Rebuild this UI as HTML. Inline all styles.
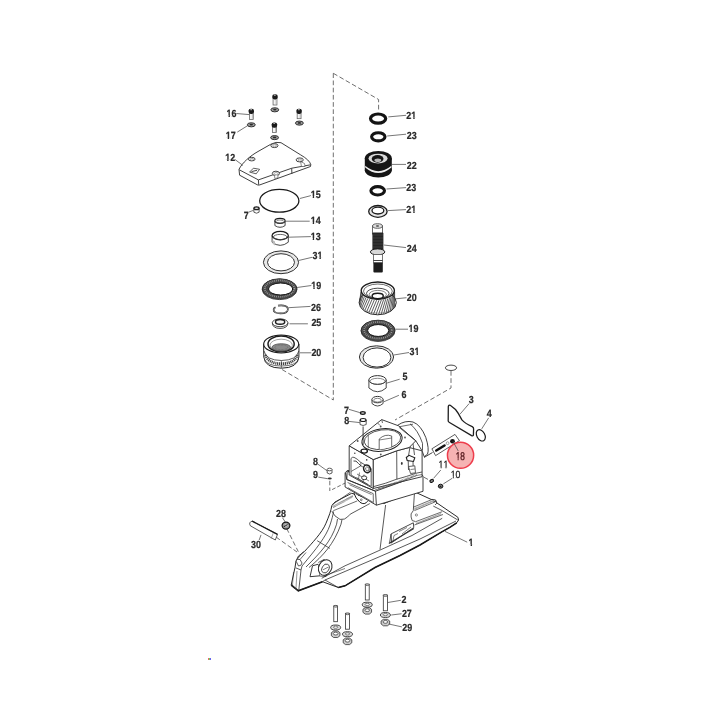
<!DOCTYPE html>
<html><head><meta charset="utf-8"><style>
html,body{margin:0;padding:0;background:#fff;}
svg{display:block;filter:blur(0.3px);}

.l{fill:none;stroke:#2e2e2e;stroke-width:0.9;}
.d{fill:none;stroke:#555;stroke-width:0.85;stroke-dasharray:4.7 2.5;}
.k{fill:none;stroke:#141414;}
.ld{fill:none;stroke:#4a4a4a;stroke-width:0.75;}
</style></head><body>
<svg width="720" height="720" viewBox="0 0 720 720">
<defs><filter id="g" x="0" y="0" width="1" height="1"><feOffset dx="0" dy="0"/></filter></defs>
<rect width="720" height="720" fill="#fff"/>
<path class="d" d="M333.3,73.3 L378.6,99.5 L378.6,111" />
<path class="d" d="M333.3,73.3 L333.3,400 L281.7,369.3" />
<path class="d" d="M451,371 L451,388 L395,420" />
<path class="d" d="M329.8,480.8 L329.8,491" style='stroke-dasharray:4.5 2.2'/>
<path class="d" d="M332.1,489.6 L345.2,483" style='stroke-dasharray:3.8 2'/>
<path class="d" d="M417.5,473.8 L430,480.5" />
<path class="d" d="M286.7,528.5 L298.3,551.7" />
<path class="d" d="M276,537 L297,552" />
<ellipse class="k" cx="378.1" cy="118.6" rx="7.6" ry="4.6" stroke-width='3.2'/>
<path class="ld" d="M388.3,116.9 L406.1,115.3" />
<g filter="url(#g)"><g transform="translate(406.29,118.80) scale(0.8600,1)"><text text-rendering="geometricPrecision" font-size="10.4" font-weight="bold" fill="#2b2b2b" stroke="#2b2b2b" stroke-width="0.220" style="font-family:'Liberation Sans', sans-serif;font-kerning:none">21</text><rect x="5.98" y="-1.52" width="2.12" height="2.58" fill="#fff"/><rect x="9.75" y="-1.52" width="2.64" height="2.58" fill="#fff"/></g></g>
<ellipse class="k" cx="378.3" cy="136.8" rx="6.7" ry="4.1" stroke-width='3.1'/>
<path class="ld" d="M387.2,136 L406.1,134.2" />
<g filter="url(#g)"><g transform="translate(406.69,139.00) scale(0.8600,1)"><text text-rendering="geometricPrecision" font-size="10.4" font-weight="bold" fill="#2b2b2b" stroke="#2b2b2b" stroke-width="0.220" style="font-family:'Liberation Sans', sans-serif;font-kerning:none">23</text></g></g>
<g>
<ellipse class="f" cx="378.3" cy="170.3" rx="13.5" ry="7.3" fill="#151515"/>
<rect x="364.8" y="158.3" width="27" height="12" fill="#151515"/>
<path d="M365.2,165.8 Q378.3,176.6 391.4,165.8 L391.4,167.4 Q378.3,178.4 365.2,167.4Z" fill="#f0f0f0"/>
<ellipse class="f" cx="378.3" cy="158.3" rx="13.5" ry="7.4" fill="#151515"/>
<ellipse class="f" cx="378.05" cy="158.55" rx="9.55" ry="4.85" fill="#d9d9d9"/>
<ellipse class="f" cx="377.6" cy="158.85" rx="5.9" ry="3.85" fill="#151515"/>
<ellipse class="f" cx="377.8" cy="160.2" rx="3.4" ry="1.8" fill="#b8b8b8"/>
</g>
<path class="ld" d="M392,164.4 L406,164.4" />
<g filter="url(#g)"><g transform="translate(406.69,169.20) scale(0.8600,1)"><text text-rendering="geometricPrecision" font-size="10.4" font-weight="bold" fill="#2b2b2b" stroke="#2b2b2b" stroke-width="0.220" style="font-family:'Liberation Sans', sans-serif;font-kerning:none">22</text></g></g>
<ellipse class="k" cx="377.7" cy="190.8" rx="6.8" ry="4.2" stroke-width='3.1'/>
<path class="ld" d="M386.5,189 L406.1,187.6" />
<g filter="url(#g)"><g transform="translate(406.29,190.70) scale(0.8600,1)"><text text-rendering="geometricPrecision" font-size="10.4" font-weight="bold" fill="#2b2b2b" stroke="#2b2b2b" stroke-width="0.220" style="font-family:'Liberation Sans', sans-serif;font-kerning:none">23</text></g></g>
<ellipse class="f" cx="377.9" cy="211.4" rx="9.2" ry="5.9" fill="#e4e4e4" stroke="#1a1a1a" stroke-width="1.3"/>
<ellipse class="f" cx="377.9" cy="210.6" rx="5.9" ry="3.4" fill="#fff" stroke="#1a1a1a" stroke-width="1.3"/>
<path class="ld" d="M388,210.6 L406,209.6" />
<g filter="url(#g)"><g transform="translate(406.29,212.70) scale(0.8600,1)"><text text-rendering="geometricPrecision" font-size="10.4" font-weight="bold" fill="#2b2b2b" stroke="#2b2b2b" stroke-width="0.220" style="font-family:'Liberation Sans', sans-serif;font-kerning:none">21</text><rect x="5.98" y="-1.52" width="2.12" height="2.58" fill="#fff"/><rect x="9.75" y="-1.52" width="2.64" height="2.58" fill="#fff"/></g></g>
<g>
<rect x="372.4" y="226" width="10" height="8" fill="#fff" stroke="#444" stroke-width="0.8"/>
<ellipse class="f" cx="377.5" cy="226" rx="4.9" ry="2.3" fill="#ddd" stroke="#444" stroke-width="0.8"/>
<ellipse class="f" cx="377.5" cy="226" rx="1.6" ry="0.9" fill="#666"/>
<rect x="372.4" y="232.5" width="11" height="19.5" rx="1" fill="#262626"/>
<path d="M373,235 L383,235 M373,238 L383,238 M373,241 L383,241 M373,244 L383,244 M373,247 L383,247" stroke="#555" stroke-width="0.5"/>
<ellipse class="f" cx="377.6" cy="251.9" rx="7.2" ry="3.0" fill="#d8d8d8" stroke="#222" stroke-width="1"/>
<rect x="373.4" y="254.5" width="9.2" height="8.4" fill="#fff" stroke="#555" stroke-width="0.8"/>
<path class="l" d="M373.4,260.5 L382.6,260.5" />
<rect x="373.4" y="262.6" width="9.4" height="9.8" rx="1" fill="#1c1c1c"/>
</g>
<path class="ld" d="M383.8,245 L406,247.6" />
<g filter="url(#g)"><g transform="translate(406.79,251.60) scale(0.8600,1)"><text text-rendering="geometricPrecision" font-size="10.4" font-weight="bold" fill="#2b2b2b" stroke="#2b2b2b" stroke-width="0.220" style="font-family:'Liberation Sans', sans-serif;font-kerning:none">24</text></g></g>
<g>
<ellipse class="f" cx="377.7" cy="302.5" rx="18.6" ry="12.3" fill="#fff" stroke="#262626" stroke-width="1"/>
<line x1="360.98" y1="291.87" x2="359.79" y2="300.07" stroke="#333" stroke-width="0.8"/>
<line x1="361.36" y1="293.14" x2="359.44" y2="301.73" stroke="#333" stroke-width="0.8"/>
<line x1="362.08" y1="294.37" x2="359.45" y2="303.40" stroke="#333" stroke-width="0.8"/>
<line x1="363.10" y1="295.54" x2="359.83" y2="305.05" stroke="#333" stroke-width="0.8"/>
<line x1="364.42" y1="296.62" x2="360.55" y2="306.66" stroke="#333" stroke-width="0.8"/>
<line x1="365.99" y1="297.58" x2="361.62" y2="308.18" stroke="#333" stroke-width="0.8"/>
<line x1="367.81" y1="298.42" x2="363.00" y2="309.59" stroke="#333" stroke-width="0.8"/>
<line x1="369.81" y1="299.11" x2="364.67" y2="310.86" stroke="#333" stroke-width="0.8"/>
<line x1="371.98" y1="299.64" x2="366.60" y2="311.96" stroke="#333" stroke-width="0.8"/>
<line x1="374.26" y1="300.00" x2="368.75" y2="312.88" stroke="#333" stroke-width="0.8"/>
<line x1="376.61" y1="300.18" x2="371.08" y2="313.59" stroke="#333" stroke-width="0.8"/>
<line x1="378.99" y1="300.18" x2="373.53" y2="314.09" stroke="#333" stroke-width="0.8"/>
<line x1="381.34" y1="300.00" x2="376.07" y2="314.35" stroke="#333" stroke-width="0.8"/>
<line x1="383.62" y1="299.64" x2="378.64" y2="314.38" stroke="#333" stroke-width="0.8"/>
<line x1="385.79" y1="299.11" x2="381.20" y2="314.18" stroke="#333" stroke-width="0.8"/>
<line x1="387.79" y1="298.42" x2="383.68" y2="313.75" stroke="#333" stroke-width="0.8"/>
<line x1="389.61" y1="297.58" x2="386.04" y2="313.09" stroke="#333" stroke-width="0.8"/>
<line x1="391.18" y1="296.62" x2="388.24" y2="312.23" stroke="#333" stroke-width="0.8"/>
<line x1="392.50" y1="295.54" x2="390.24" y2="311.17" stroke="#333" stroke-width="0.8"/>
<line x1="393.52" y1="294.37" x2="391.98" y2="309.94" stroke="#333" stroke-width="0.8"/>
<line x1="394.24" y1="293.14" x2="393.44" y2="308.57" stroke="#333" stroke-width="0.8"/>
<line x1="394.62" y1="291.87" x2="394.60" y2="307.07" stroke="#333" stroke-width="0.8"/>
<path d="M360.5,304 Q362,312.8 377.7,313.2 Q393.4,312.8 395,304" fill="none" stroke="#666" stroke-width="0.5"/>
<ellipse class="f" cx="377.8" cy="290.6" rx="16.6" ry="8.6" fill="#fff" stroke="#1e1e1e" stroke-width="1.4"/>
<ellipse class="f" cx="377.9" cy="291.2" rx="14.4" ry="7.2" fill="none" stroke="#444" stroke-width="0.8"/>
<ellipse class="f" cx="377.8" cy="293.4" rx="11.3" ry="5.2" fill="none" stroke="#333" stroke-width="0.9"/>
<ellipse class="f" cx="377.8" cy="294.4" rx="8.6" ry="4.0" fill="none" stroke="#555" stroke-width="0.7"/>
<ellipse class="f" cx="377.7" cy="296" rx="5.6" ry="2.7" fill="#fff" stroke="#1a1a1a" stroke-width="1.4"/>
</g>
<path class="ld" d="M396,298.8 L406.5,297.7" />
<g filter="url(#g)"><g transform="translate(406.69,301.10) scale(0.8600,1)"><text text-rendering="geometricPrecision" font-size="10.4" font-weight="bold" fill="#2b2b2b" stroke="#2b2b2b" stroke-width="0.220" style="font-family:'Liberation Sans', sans-serif;font-kerning:none">20</text></g></g>
<ellipse class="f" cx="378" cy="330.9" rx="17" ry="10.5" fill="#6a6a6a" stroke="#222" stroke-width="0.8"/>
<ellipse class="f" cx="378" cy="330.2" rx="16.8" ry="10.0" fill="#454545" stroke="#222" stroke-width="0.7"/>
<ellipse class="f" cx="378" cy="330.2" rx="13.775" ry="8.225" fill="none" stroke="#a0a0a0" stroke-width="1.8" stroke-dasharray="0.8 1.1"/>
<ellipse class="f" cx="378" cy="330.3" rx="15.9" ry="9.5" fill="none" stroke="#666" stroke-width="0.5"/>
<ellipse class="f" cx="378.2" cy="330.5" rx="10.55" ry="5.95" fill="#fff" stroke="#111" stroke-width="1"/>
<path class="ld" d="M395,329.2 L408,329.2" />
<g filter="url(#g)"><g transform="translate(408.42,331.90) scale(0.8600,1)"><text text-rendering="geometricPrecision" font-size="10.4" font-weight="bold" fill="#2b2b2b" stroke="#2b2b2b" stroke-width="0.220" style="font-family:'Liberation Sans', sans-serif;font-kerning:none">19</text><rect x="-0.45" y="-1.52" width="2.77" height="2.58" fill="#fff"/><rect x="3.96" y="-1.52" width="1.99" height="2.58" fill="#fff"/></g></g>
<ellipse class="f" cx="376.5" cy="357" rx="17.1" ry="11.2" fill="#e8e8e8" stroke="#333" stroke-width="1"/>
<ellipse class="f" cx="377" cy="357.5" rx="13.9" ry="9.6" fill="#fff" stroke="#333" stroke-width="1"/>
<path class="ld" d="M393.8,355 L409,352.5" />
<g filter="url(#g)"><g transform="translate(409.58,354.70) scale(0.8600,1)"><text text-rendering="geometricPrecision" font-size="10.4" font-weight="bold" fill="#2b2b2b" stroke="#2b2b2b" stroke-width="0.220" style="font-family:'Liberation Sans', sans-serif;font-kerning:none">31</text><rect x="5.98" y="-1.52" width="2.12" height="2.58" fill="#fff"/><rect x="9.75" y="-1.52" width="2.64" height="2.58" fill="#fff"/></g></g>
<path d="M368.9,380 L368.9,388 Q377.5,395.5 386.2,388 L386.2,380" fill="#fff" stroke="#333" stroke-width="0.9"/>
<ellipse class="f" cx="377.5" cy="380" rx="8.7" ry="4.4" fill="#fff" stroke="#333" stroke-width="1"/>
<ellipse class="f" cx="377.5" cy="381.3" rx="7.5" ry="3.0" fill="none" stroke="#555" stroke-width="0.7"/>
<path class="ld" d="M386.1,383.3 L399.7,379.2" />
<g filter="url(#g)"><g transform="translate(402.53,379.90) scale(0.8600,1)"><text text-rendering="geometricPrecision" font-size="10.4" font-weight="bold" fill="#2b2b2b" stroke="#2b2b2b" stroke-width="0.220" style="font-family:'Liberation Sans', sans-serif;font-kerning:none">5</text></g></g>
<path d="M372,399.5 L372,403.5 Q377.5,408.5 383.1,403.5 L383.1,399.5" fill="#fff" stroke="#333" stroke-width="0.9"/>
<ellipse class="f" cx="377.5" cy="399.6" rx="5.6" ry="3.2" fill="#fff" stroke="#333" stroke-width="1"/>
<ellipse class="f" cx="377.5" cy="400.2" rx="3.8" ry="1.9" fill="none" stroke="#555" stroke-width="0.7"/>
<path class="ld" d="M384,401.7 L398.9,395.3" />
<g filter="url(#g)"><g transform="translate(401.39,398.20) scale(0.8600,1)"><text text-rendering="geometricPrecision" font-size="10.4" font-weight="bold" fill="#2b2b2b" stroke="#2b2b2b" stroke-width="0.220" style="font-family:'Liberation Sans', sans-serif;font-kerning:none">6</text></g></g>
<ellipse class="f" cx="451" cy="367.8" rx="5.6" ry="2.7" fill="#fff" stroke="#333" stroke-width="0.9"/>
<rect x="249.35000000000002" y="112.9" width="3.9" height="6.500000000000003" fill="#f4f4f4" stroke="#555" stroke-width="0.7"/>
<rect x="251.9" y="113.3" width="1.0" height="5.500000000000003" fill="#bbb"/>
<rect x="248.60000000000002" y="108.7" width="5.4" height="5.2" rx="2.2" ry="1.8" fill="#1a1a1a"/>
<ellipse class="f" cx="251.10000000000002" cy="109.7" rx="1.0" ry="0.6" fill="#bbb"/>
<ellipse class="f" cx="251.3" cy="124.8" rx="3.95" ry="2.05" fill="#9a9a9a" stroke="#222" stroke-width="0.9"/>
<ellipse class="f" cx="251.3" cy="124.6" rx="1.659" ry="0.9225" fill="#2a2a2a"/>
<rect x="273.05" y="98.4" width="3.9" height="6.599999999999997" fill="#f4f4f4" stroke="#555" stroke-width="0.7"/>
<rect x="275.6" y="98.8" width="1.0" height="5.599999999999997" fill="#bbb"/>
<rect x="272.3" y="94.2" width="5.4" height="5.2" rx="2.2" ry="1.8" fill="#1a1a1a"/>
<ellipse class="f" cx="274.8" cy="95.2" rx="1.0" ry="0.6" fill="#bbb"/>
<ellipse class="f" cx="274.8" cy="109.8" rx="3.95" ry="2.05" fill="#9a9a9a" stroke="#222" stroke-width="0.9"/>
<ellipse class="f" cx="274.8" cy="109.6" rx="1.659" ry="0.9225" fill="#2a2a2a"/>
<rect x="297.15000000000003" y="112.9" width="3.9" height="5.8" fill="#f4f4f4" stroke="#555" stroke-width="0.7"/>
<rect x="299.70000000000005" y="113.3" width="1.0" height="4.8" fill="#bbb"/>
<rect x="296.40000000000003" y="108.7" width="5.4" height="5.2" rx="2.2" ry="1.8" fill="#1a1a1a"/>
<ellipse class="f" cx="298.90000000000003" cy="109.7" rx="1.0" ry="0.6" fill="#bbb"/>
<ellipse class="f" cx="299.4" cy="123.1" rx="3.95" ry="2.05" fill="#9a9a9a" stroke="#222" stroke-width="0.9"/>
<ellipse class="f" cx="299.4" cy="122.89999999999999" rx="1.659" ry="0.9225" fill="#2a2a2a"/>
<rect x="272.45" y="126.7" width="3.9" height="5.8" fill="#f4f4f4" stroke="#555" stroke-width="0.7"/>
<rect x="275.0" y="127.1" width="1.0" height="4.8" fill="#bbb"/>
<rect x="271.7" y="122.5" width="5.4" height="5.2" rx="2.2" ry="1.8" fill="#1a1a1a"/>
<ellipse class="f" cx="274.2" cy="123.5" rx="1.0" ry="0.6" fill="#bbb"/>
<ellipse class="f" cx="274.6" cy="137.6" rx="3.95" ry="2.05" fill="#9a9a9a" stroke="#222" stroke-width="0.9"/>
<ellipse class="f" cx="274.6" cy="137.4" rx="1.659" ry="0.9225" fill="#2a2a2a"/>
<path class="ld" d="M236.3,113.5 L249.2,114.6" />
<g filter="url(#g)"><g transform="translate(226.52,116.80) scale(0.8600,1)"><text text-rendering="geometricPrecision" font-size="10.4" font-weight="bold" fill="#2b2b2b" stroke="#2b2b2b" stroke-width="0.220" style="font-family:'Liberation Sans', sans-serif;font-kerning:none">16</text><rect x="-0.45" y="-1.52" width="2.77" height="2.58" fill="#fff"/><rect x="3.96" y="-1.52" width="1.99" height="2.58" fill="#fff"/></g></g>
<path class="ld" d="M237.3,132.1 L248,125.4" />
<g filter="url(#g)"><g transform="translate(225.72,139.00) scale(0.8600,1)"><text text-rendering="geometricPrecision" font-size="10.4" font-weight="bold" fill="#2b2b2b" stroke="#2b2b2b" stroke-width="0.220" style="font-family:'Liberation Sans', sans-serif;font-kerning:none">17</text><rect x="-0.45" y="-1.52" width="2.77" height="2.58" fill="#fff"/><rect x="3.96" y="-1.52" width="1.99" height="2.58" fill="#fff"/></g></g>
<path d="M239,169.3 C242,163 250,156 258,151.5 L270.7,144.3 Q276,141.3 281,142.7 L300.7,154.9 Q309.5,160 310.8,164.6 L310.5,166.5 L259.8,184.9 Q258.5,185.4 257.3,184.8 L239.6,175.2 Z" fill="#fff" stroke="#2a2a2a" stroke-width="0.9"/>
<path class="l" d="M239.3,169.8 L258.4,179.9 L291.8,168.2 L310.6,164.8" stroke-width='0.7'/>
<path class="l" d="M258.4,179.9 L258.7,184.8 M291.7,168.3 L291.9,173.8" stroke-width='0.7'/>
<ellipse class="f" cx="274.4" cy="145.6" rx="3.6" ry="2.0" fill="#f4f4f4" stroke="#333" stroke-width="0.9"/>
<ellipse class="f" cx="274.59999999999997" cy="145.79999999999998" rx="1.8" ry="1.0" fill="#fff" stroke="#666" stroke-width="0.5"/>
<ellipse class="f" cx="251.7" cy="159.1" rx="3.4" ry="1.8" fill="#f4f4f4" stroke="#333" stroke-width="0.9"/>
<ellipse class="f" cx="251.89999999999998" cy="159.29999999999998" rx="1.7" ry="0.9" fill="#fff" stroke="#666" stroke-width="0.5"/>
<ellipse class="f" cx="299.7" cy="159.9" rx="3.6" ry="2.0" fill="#f4f4f4" stroke="#333" stroke-width="0.9"/>
<ellipse class="f" cx="299.9" cy="160.1" rx="1.8" ry="1.0" fill="#fff" stroke="#666" stroke-width="0.5"/>
<path d="M300.5,161.5 L304.5,163.5 L305,166.5 L301.5,166.5 Z" fill="#fff" stroke="#444" stroke-width="0.6"/>
<ellipse class="f" cx="275.9" cy="173.4" rx="3.6" ry="2.2" fill="#f4f4f4" stroke="#333" stroke-width="0.9"/>
<ellipse class="f" cx="276.09999999999997" cy="173.6" rx="1.8" ry="1.1" fill="#fff" stroke="#666" stroke-width="0.5"/>
<path d="M274.5,175.5 L274.8,178.5 L278,177.8 L277.8,175" fill="#fff" stroke="#444" stroke-width="0.6"/>
<path d="M249.6,172.1 L253.4,168.2 L259.6,169.3 L256.2,173.8 Z" fill="#fff" stroke="#333" stroke-width="0.8"/>
<path class="l" d="M251.5,171.6 L257,170.3" stroke-width='0.9'/>
<path class="ld" d="M235,159.5 L243,165.5" />
<g filter="url(#g)"><g transform="translate(225.17,161.00) scale(0.8600,1)"><text text-rendering="geometricPrecision" font-size="10.4" font-weight="bold" fill="#2b2b2b" stroke="#2b2b2b" stroke-width="0.220" style="font-family:'Liberation Sans', sans-serif;font-kerning:none">12</text><rect x="-0.45" y="-1.52" width="2.77" height="2.58" fill="#fff"/><rect x="3.96" y="-1.52" width="1.99" height="2.58" fill="#fff"/></g></g>
<ellipse class="f" cx="279.3" cy="200.8" rx="19.6" ry="11.4" fill="none" stroke="#1a1a1a" stroke-width="1.3"/>
<path class="ld" d="M299.8,198.5 L311,195.6" />
<g filter="url(#g)"><g transform="translate(310.72,197.60) scale(0.8600,1)"><text text-rendering="geometricPrecision" font-size="10.4" font-weight="bold" fill="#2b2b2b" stroke="#2b2b2b" stroke-width="0.220" style="font-family:'Liberation Sans', sans-serif;font-kerning:none">15</text><rect x="-0.45" y="-1.52" width="2.77" height="2.58" fill="#fff"/><rect x="3.96" y="-1.52" width="1.99" height="2.58" fill="#fff"/></g></g>
<path d="M253.9,208.3 L253.9,212.2 Q256.5,214.2 259.1,212.2 L259.1,208.3" fill="#fff" stroke="#333" stroke-width="0.8"/>
<ellipse class="f" cx="256.5" cy="208.3" rx="2.6" ry="1.4" fill="#ddd" stroke="#1e1e1e" stroke-width="1.3"/>
<path class="ld" d="M249,212 L253.5,210.3" />
<g filter="url(#g)"><g transform="translate(243.70,218.90) scale(0.8600,1)"><text text-rendering="geometricPrecision" font-size="10.4" font-weight="bold" fill="#2b2b2b" stroke="#2b2b2b" stroke-width="0.220" style="font-family:'Liberation Sans', sans-serif;font-kerning:none">7</text></g></g>
<path d="M274.9,220.8 L274.9,225.6 Q280,229 285.1,225.6 L285.1,220.8" fill="#fff" stroke="#333" stroke-width="0.9"/>
<ellipse class="f" cx="280" cy="220.8" rx="5.1" ry="2.5" fill="#fff" stroke="#1e1e1e" stroke-width="1.2"/>
<ellipse class="f" cx="280" cy="221.6" rx="4.0" ry="1.6" fill="none" stroke="#555" stroke-width="0.7"/>
<path class="ld" d="M286,221.2 L309.7,221.2" />
<g filter="url(#g)"><g transform="translate(310.72,223.70) scale(0.8600,1)"><text text-rendering="geometricPrecision" font-size="10.4" font-weight="bold" fill="#2b2b2b" stroke="#2b2b2b" stroke-width="0.220" style="font-family:'Liberation Sans', sans-serif;font-kerning:none">14</text><rect x="-0.45" y="-1.52" width="2.77" height="2.58" fill="#fff"/><rect x="3.96" y="-1.52" width="1.99" height="2.58" fill="#fff"/></g></g>
<path d="M272.1,235.6 L272.1,242.2 Q280.2,248.5 288.3,242.2 L288.3,235.6" fill="#fff" stroke="#333" stroke-width="0.9"/>
<ellipse class="f" cx="280.2" cy="235.6" rx="8.1" ry="4.2" fill="#fff" stroke="#1e1e1e" stroke-width="1.2"/>
<ellipse class="f" cx="280.2" cy="237" rx="6.8" ry="2.6" fill="none" stroke="#444" stroke-width="0.8"/>
<path d="M272.5,240 L272.5,243.5 Q274,245 275,245.5 L275,241.5 Z" fill="#bbb"/>
<path class="ld" d="M288.8,237.2 L310.9,236.6" />
<g filter="url(#g)"><g transform="translate(310.72,239.50) scale(0.8600,1)"><text text-rendering="geometricPrecision" font-size="10.4" font-weight="bold" fill="#2b2b2b" stroke="#2b2b2b" stroke-width="0.220" style="font-family:'Liberation Sans', sans-serif;font-kerning:none">13</text><rect x="-0.45" y="-1.52" width="2.77" height="2.58" fill="#fff"/><rect x="3.96" y="-1.52" width="1.99" height="2.58" fill="#fff"/></g></g>
<ellipse class="f" cx="281" cy="262.3" rx="17.6" ry="11.4" fill="#e8e8e8" stroke="#333" stroke-width="1"/>
<ellipse class="f" cx="281" cy="262.3" rx="13.5" ry="8.6" fill="#fff" stroke="#333" stroke-width="1"/>
<path class="ld" d="M298.6,260.5 L312.1,257.3" />
<g filter="url(#g)"><g transform="translate(312.48,258.80) scale(0.8600,1)"><text text-rendering="geometricPrecision" font-size="10.4" font-weight="bold" fill="#2b2b2b" stroke="#2b2b2b" stroke-width="0.220" style="font-family:'Liberation Sans', sans-serif;font-kerning:none">31</text><rect x="5.98" y="-1.52" width="2.12" height="2.58" fill="#fff"/><rect x="9.75" y="-1.52" width="2.64" height="2.58" fill="#fff"/></g></g>
<ellipse class="f" cx="279.6" cy="289.3" rx="17.4" ry="10.3" fill="#6a6a6a" stroke="#222" stroke-width="0.8"/>
<ellipse class="f" cx="279.6" cy="288.6" rx="17.2" ry="9.8" fill="#454545" stroke="#222" stroke-width="0.7"/>
<ellipse class="f" cx="279.6" cy="288.6" rx="14.75" ry="8.15" fill="none" stroke="#a0a0a0" stroke-width="1.8" stroke-dasharray="0.8 1.1"/>
<ellipse class="f" cx="279.6" cy="288.70000000000005" rx="16.299999999999997" ry="9.3" fill="none" stroke="#666" stroke-width="0.5"/>
<ellipse class="f" cx="280.6" cy="289" rx="12.1" ry="6.0" fill="#fff" stroke="#111" stroke-width="1"/>
<path class="ld" d="M297,287.5 L311.3,285.5" />
<g filter="url(#g)"><g transform="translate(311.32,288.60) scale(0.8600,1)"><text text-rendering="geometricPrecision" font-size="10.4" font-weight="bold" fill="#2b2b2b" stroke="#2b2b2b" stroke-width="0.220" style="font-family:'Liberation Sans', sans-serif;font-kerning:none">19</text><rect x="-0.45" y="-1.52" width="2.77" height="2.58" fill="#fff"/><rect x="3.96" y="-1.52" width="1.99" height="2.58" fill="#fff"/></g></g>
<path d="M278,305.6 Q287.8,304.6 287.9,309.2 Q287.8,313.3 280.5,313.4 Q273.5,313.2 273.6,309.8 Q273.7,308.2 275.5,307.3" fill="none" stroke="#222" stroke-width="1.6"/>
<path d="M278,305.6 Q287.8,304.6 287.9,309.2 Q287.8,313.3 280.5,313.4 Q273.5,313.2 273.6,309.8 Q273.7,308.2 275.5,307.3" fill="none" stroke="#fff" stroke-width="0.45"/>
<path class="ld" d="M288.5,307.7 L310.5,306.4" />
<g filter="url(#g)"><g transform="translate(310.99,310.80) scale(0.8600,1)"><text text-rendering="geometricPrecision" font-size="10.4" font-weight="bold" fill="#2b2b2b" stroke="#2b2b2b" stroke-width="0.220" style="font-family:'Liberation Sans', sans-serif;font-kerning:none">26</text></g></g>
<path d="M272.3,322.8 Q272.5,328.4 280,328.4 Q287.8,328.4 288,322.8" fill="#fff" stroke="#333" stroke-width="0.9"/>
<ellipse class="f" cx="280.1" cy="322.8" rx="7.8" ry="3.9" fill="#fff" stroke="#333" stroke-width="0.9"/>
<ellipse class="f" cx="280.1" cy="321.9" rx="4.6" ry="2.3" fill="#f2f2f2" stroke="#1e1e1e" stroke-width="1.5"/>
<path class="ld" d="M289.5,323.8 L307.9,323.8" />
<g filter="url(#g)"><g transform="translate(311.39,326.30) scale(0.8600,1)"><text text-rendering="geometricPrecision" font-size="10.4" font-weight="bold" fill="#2b2b2b" stroke="#2b2b2b" stroke-width="0.220" style="font-family:'Liberation Sans', sans-serif;font-kerning:none">25</text></g></g>
<path d="M263.6,344 L263.8,357 Q265,368 281.4,368.2 Q297.8,368 298.9,357 L299,344 Z" fill="#fff" stroke="#222" stroke-width="1"/>
<path d="M264,351 Q266,360.3 281.4,360.5 Q296.8,360.3 298.8,351" fill="none" stroke="#333" stroke-width="0.8"/>
<path d="M265.5,355 Q268,363.5 281.4,363.7 Q294.8,363.5 297.3,355" fill="none" stroke="#444" stroke-width="2.8" stroke-dasharray="1.2 0.7"/>
<path d="M264.2,359 Q267,366 281.4,366 Q296,366 298.6,359" fill="none" stroke="#333" stroke-width="0.7"/>
<path d="M281.4,360.5 L281.4,368" class="l" style="stroke-width:0.6"/>
<ellipse class="f" cx="281.2" cy="344" rx="17.5" ry="9" fill="#fff" stroke="#1e1e1e" stroke-width="1.1"/>
<ellipse class="f" cx="281.1" cy="343.9" rx="13.1" ry="7.9" fill="#fff" stroke="#1e1e1e" stroke-width="1.5"/>
<ellipse class="f" cx="281.2" cy="345.2" rx="11.2" ry="6.0" fill="none" stroke="#666" stroke-width="0.6"/>
<ellipse class="f" cx="281.3" cy="347.3" rx="9.3" ry="3.6" fill="#8a8a8a" stroke="#444" stroke-width="0.7"/>
<ellipse class="f" cx="281.3" cy="347.3" rx="6.5" ry="2.3" fill="none" stroke="#555" stroke-width="0.6" stroke-dasharray="0.7 0.7"/>
<path class="ld" d="M300,352.8 L311.3,352.8" />
<g filter="url(#g)"><g transform="translate(311.39,355.70) scale(0.8600,1)"><text text-rendering="geometricPrecision" font-size="10.4" font-weight="bold" fill="#2b2b2b" stroke="#2b2b2b" stroke-width="0.220" style="font-family:'Liberation Sans', sans-serif;font-kerning:none">20</text></g></g>
<g id="gearcase">
<!-- main silhouette -->
<path d="M291.2,585 L295,567.5 L296,561 L298.5,556 L304.6,551.4 C312,543 322,533 326,523.2 C329,516 331,511 331.8,505.7 L335,502 L351.7,493.3 L384,503.5 L410,492.8 L416.7,492.8 L431.1,499.4 L435.6,500 L436.7,502.8 L457.8,517.2 Q460,520 456.7,522.8 Q450,527.5 442.2,531.7 L420,545 L400,555.5 L375,567.5 L345,585.8 L338.3,587.5 L322.5,581.7 L298.3,590.8 Z" fill="#fff" stroke="#2a2a2a" stroke-width="1"/>
<!-- thick bottom edges -->
<path d="M291.2,585 L298.3,590.8 L322.5,581.7" fill="none" stroke="#1a1a1a" stroke-width="1.7"/>
<path d="M338.3,587.5 L345,585.8 L375,567.5 L400,555.5 L420,545 L442.2,531.7 Q450,527.5 456.7,522.8" fill="none" stroke="#1a1a1a" stroke-width="1.5"/>
<!-- nose -->
<path d="M295.6,567.8 L301,570 L298.8,590 M301,570 L302,566 M291.2,585 L298.3,590.8" class="l" style="stroke-width:0.8"/>
<path d="M293.5,572 L292.5,585 M297,571 L296,588" class="l" style="stroke-width:0.5"/>
<path d="M296,561 Q297,558.5 300,559.5 L302,563 Q301.5,566 298.5,566 Z" fill="#fff" stroke="#333" stroke-width="0.8"/>
<path d="M297,559.5 L303.5,551.5 M300,559.5 L306,552.5" class="l" style="stroke-width:0.7"/>
<!-- leg lines -->
<path d="M302,566 C316,549 326,537 330,525 C332,519 333,515 333.5,511.5" class="l" style="stroke-width:0.8"/>
<path d="M306,567 C320,553 331,542 336.6,524.2 L337.5,519" class="l" style="stroke-width:0.8"/>
<path d="M309,567.5 C323,556 334,544 341,524.2 L342,519.5" class="l" style="stroke-width:0.8"/>
<path d="M317.2,540.7 L329.8,548.4" class="l" style="stroke-width:0.8"/>
<!-- collar -->
<path d="M331.8,511 Q334,516.5 340,519.4 Q345,520 347.6,516.9 L350.2,514.2 L369.8,503.6" class="l" style="stroke-width:0.8"/>
<path d="M332.2,504.6 L350.5,492.2 M333.3,510.7 L357.3,500.9" class="l" style="stroke-width:0.7"/>
<path d="M333,507 L353,496" fill="none" stroke="#444" stroke-width="2.2" stroke-dasharray="0.5 0.6"/>
<path d="M353.8,492.9 Q355.5,498.5 360,502.3 Q364.5,505.5 367.6,501.2" fill="#fff" stroke="#1e1e1e" stroke-width="1"/>
<circle cx="361.3" cy="499.8" r="0.9" fill="none" stroke="#333" stroke-width="0.6"/>
<!-- boss & plate -->
<path d="M312.5,565.8 L318.3,564.2 L320,575.8 L310,576.7 Z" fill="#fff" stroke="#222" stroke-width="0.9"/>
<path d="M318.3,562.5 L324,559.5 L330,564 L326,576.5 L320,576" fill="#fff" stroke="#333" stroke-width="0.8"/>
<ellipse cx="325.2" cy="567.5" rx="6.4" ry="8.1" transform="rotate(28 325.2 567.5)" fill="#fff" stroke="#222" stroke-width="1"/>
<ellipse cx="325.5" cy="568.5" rx="3.4" ry="4.7" transform="rotate(28 325.5 568.5)" fill="#fff" stroke="#333" stroke-width="0.8"/>
<path d="M323,569.8 L328.5,567" class="l" style="stroke-width:0.6"/>
<!-- fin lines -->
<path d="M321.7,578.3 L345,565.8 L378,551 L412,535.5 L442.2,518.3" class="l" style="stroke-width:0.8"/>
<path d="M324.2,575.8 L345,568.5" class="l" style="stroke-width:0.6"/>
<path d="M322.5,581.7 L325,580 L338.3,587.5" class="l" style="stroke-width:0.8"/>
<path d="M325,580 L380,556.5 L420,539 L456,521" class="l" style="stroke-width:0.8"/>
<!-- strut -->
<path d="M385.6,505 L380,549.5" class="l" style="stroke-width:0.8"/>
<path d="M414.4,493.9 L413.3,510.6" class="l" style="stroke-width:0.8"/>
<!-- AV plate details -->
<path d="M433.3,506.1 L442.2,510.6 L457.8,520" class="l" style="stroke-width:0.8"/>
<path d="M413.3,507.2 L432.2,499.4 M414.4,510.6 L436,501.5" class="l" style="stroke-width:0.7"/>
<path d="M414,509 L434,500.5" fill="none" stroke="#555" stroke-width="1.8" stroke-dasharray="0.5 0.6"/>
<path d="M415.6,521.7 L442.2,511.7 M414.4,525 L443,514.5" class="l" style="stroke-width:0.7"/>
<path d="M416,523.5 L441,513.8" fill="none" stroke="#555" stroke-width="1.5" stroke-dasharray="0.5 0.6"/>
<path d="M413.3,510.6 Q410,514 411.1,517 L412.2,520.6 L415.5,521.5" fill="#fff" stroke="#333" stroke-width="0.8"/>
<circle cx="416.4" cy="515" r="1.1" fill="none" stroke="#444" stroke-width="0.6"/>
<path d="M433.5,501.8 Q435.5,500 437,503 L435,505" fill="none" stroke="#333" stroke-width="0.8"/>
<!-- side window -->
<path d="M391.1,533.9 L413.3,522.8 L413.8,527.5 L391.5,542.8 Z" fill="#fff" stroke="#333" stroke-width="0.9"/>
<path d="M391.5,542.8 L389.6,542.5 L391,534" class="l" style="stroke-width:0.8"/>
<path d="M393,540.5 L394,535.5 L398,533.5 M399,531.5 L407,527.5 M402,534 L411,527" class="l" style="stroke-width:0.6"/>
<path d="M388.9,543.5 L413.8,528.5" fill="none" stroke="#333" stroke-width="1.2"/>
</g>
<g id="housing">
<!-- base plate -->
<path d="M347.2,470.7 L345.1,472.8 L345.1,487 L376.4,505.2 L423,491.3 L423,476 L421.8,474.5 L375.5,491.2 L346.8,479.5 Z" fill="#fff" stroke="#2a2a2a" stroke-width="0.9"/>
<path d="M345.5,472.8 L346.8,479.5 L375.5,491.2 L376.4,505.2" class="l"/>
<path d="M347.6,482.5 L373.2,493.6 L373.4,502.5 L347.8,487.6" class="l" style="stroke-width:0.7"/>
<path d="M349.5,484.8 L371.5,494.5" class="l" style="stroke-width:0.6"/>
<path d="M347.2,470.7 L349.3,470.4 L349.3,473" fill="#222" stroke="#222" stroke-width="0.8"/>
<!-- box front-left face -->
<path d="M349.2,445.8 L373.3,459.6 L373.3,488.5 L349.2,475 Z" fill="#fff" stroke="#2a2a2a" stroke-width="0.9"/>
<!-- window in left face -->
<path d="M351,475 L351,458.5 Q352,456.8 354,457.3 Q357,458.5 360.8,462.4 L371.2,468.5 L371.2,486.5 Z" fill="#fff" stroke="#333" stroke-width="0.8"/>
<path d="M351.2,471.4 L360.8,465.8 L371.2,471.8" class="l" style="stroke-width:0.7"/>
<path d="M360.8,465.8 L360.8,462.4" class="l" style="stroke-width:0.6"/>
<ellipse cx="367" cy="468.8" rx="3.3" ry="3.9" transform="rotate(-20 367 468.8)" fill="#fff" stroke="#1e1e1e" stroke-width="1.5"/>
<ellipse cx="367.3" cy="468.9" rx="1.6" ry="2.1" transform="rotate(-20 367.3 468.9)" fill="none" stroke="#444" stroke-width="0.7"/>
<path d="M357,474 L369,481 M356.5,477.5 L368,484.5 M359.5,472.5 L358.5,479 M364,474.5 L363,483" class="l" style="stroke-width:0.6"/>
<ellipse cx="364.2" cy="477.8" rx="2.6" ry="1.9" fill="#fff" stroke="#222" stroke-width="0.9"/>
<path d="M353.5,461 Q356,460 358.5,463.5 L361,466" class="l" style="stroke-width:0.9"/>
<circle cx="354.8" cy="453.3" r="0.8" fill="#444"/>
<circle cx="366.7" cy="459.9" r="0.8" fill="#444"/>
<!-- right face -->
<path d="M373.3,459.6 L396.7,450.8 L409.2,447.5 L422.1,450.8 L422.1,476.7 L373.3,488.5 Z" fill="#fff" stroke="#2a2a2a" stroke-width="0.9"/>
<path d="M396.7,450.8 L396.9,479.5" class="l" style="stroke-width:0.8"/>
<path d="M373.3,486.7 Q386,483.5 396.7,479.2 Q407,476.5 415.8,473.3 L422,472" class="l" style="stroke-width:0.8"/>
<path d="M375,490 Q390,486 400,482 L416.7,475.5 L422,474.5" class="l" style="stroke-width:0.6"/>
<path d="M378,488.2 Q392,484.3 401,480.8 L417,474.8" fill="none" stroke="#555" stroke-width="2" stroke-dasharray="0.5 0.8"/>
<!-- shift linkage on right panel -->
<path d="M410.5,443.5 L408.5,456 M413,443.5 L414.5,455" class="l" style="stroke-width:0.8"/>
<path d="M406.3,457.5 L409,455.3 L414.8,457.8 L413.5,461.5 L407.2,460.5 Z" fill="#fff" stroke="#1e1e1e" stroke-width="1.1"/>
<path d="M408.2,460.5 L408.5,470 M413,461.3 L413.2,469" class="l" style="stroke-width:0.8"/>
<path d="M408.5,466.5 L414.8,465.8 L415.5,472.8 L410.5,473.5 Z" fill="#fff" stroke="#333" stroke-width="0.8"/>
<path d="M410.5,469.5 L414.8,469" class="l" style="stroke-width:0.6"/>
<ellipse cx="401.8" cy="463.5" rx="0.9" ry="1.4" fill="#333"/>
<!-- cylinder (side bore) -->
<path d="M397.5,425.4 Q405,420 413,422 Q421,425 425.8,437.5 Q429.5,449 427.5,454.2 L424.2,456.7 L422.1,450.8 L415.8,440.8 Z" fill="#fff" stroke="#2a2a2a" stroke-width="0.9"/>
<path d="M410,423.8 Q418,430 422.5,443.3 L422.5,450.5" class="l" style="stroke-width:0.8"/>
<path d="M399,426.8 L413,424.2" class="l" style="stroke-width:0.7"/>
<!-- top face -->
<path d="M349.2,445.8 L377.5,422.9 L381.7,419.6 L398.5,425.8 L415.8,440.8 L409.2,447.5 L396.7,450.8 L373.3,459.6 Z" fill="#fff" stroke="#2a2a2a" stroke-width="0.9"/>
<path d="M377.5,422.9 L380,425.5 M381.7,419.6 L382.5,423" class="l" style="stroke-width:0.7"/>
<path d="M399.2,427.5 L415.8,440.8" class="l" style="stroke-width:0.7"/>
<!-- bore -->
<ellipse cx="382" cy="440" rx="20.3" ry="11.2" transform="rotate(-8 382 440)" fill="#fff" stroke="#222" stroke-width="1"/>
<ellipse cx="382.5" cy="439.6" rx="18.4" ry="9.7" transform="rotate(-8 382.5 439.6)" fill="#fff" stroke="#333" stroke-width="0.8"/>
<path d="M379.2,449.5 L379.2,439 Q385,433.5 391.7,436 L391.7,447" fill="#fff" stroke="#444" stroke-width="0.8"/>
<path d="M379.2,440 L391.7,438" class="l" style="stroke-width:0.6"/>
<path d="M368.3,448.3 L368.3,434.4" class="l" style="stroke-width:0.6"/>
<ellipse cx="364.2" cy="451.1" rx="3.2" ry="2" fill="#fff" stroke="#1a1a1a" stroke-width="1.3"/>
<circle cx="357.7" cy="441" r="0.9" fill="#555"/>
<circle cx="380.7" cy="426.5" r="0.9" fill="#555"/>
<circle cx="380.8" cy="454.5" r="0.9" fill="#555"/>
<circle cx="405" cy="437.5" r="0.9" fill="#555"/>
</g>

<g filter="url(#g)"><g transform="translate(344.00,413.70) scale(0.8600,1)"><text text-rendering="geometricPrecision" font-size="10.4" font-weight="bold" fill="#2b2b2b" stroke="#2b2b2b" stroke-width="0.220" style="font-family:'Liberation Sans', sans-serif;font-kerning:none">7</text></g></g>
<ellipse class="f" cx="362.8" cy="413" rx="2.4" ry="1.3" fill="#ccc" stroke="#1a1a1a" stroke-width="1.3"/>
<path class="ld" d="M348.8,409.3 L359.8,412.6" />
<g filter="url(#g)"><g transform="translate(344.33,423.80) scale(0.8600,1)"><text text-rendering="geometricPrecision" font-size="10.4" font-weight="bold" fill="#2b2b2b" stroke="#2b2b2b" stroke-width="0.220" style="font-family:'Liberation Sans', sans-serif;font-kerning:none">8</text></g></g>
<path d="M360,420 L360,424.5 Q363.1,426.5 366.2,424.5 L366.2,420" fill="#fff" stroke="#333" stroke-width="0.8"/>
<ellipse class="f" cx="363.1" cy="420" rx="2.9" ry="1.5" fill="#fff" stroke="#1e1e1e" stroke-width="1.2"/>
<path class="ld" d="M349,421.4 L359.8,422.6" />
<path class="l" d="M363.1,426.5 L363.1,445" stroke-width='0.6'/>
<path d="M448.2,421 L448.3,406.5 Q448.5,404.8 450.3,405.3 L455.5,409.5 Q458.5,413 461.9,419.9 Q465,423.5 472.2,426.6 Q473.8,427.5 473.6,429 L473.4,434.8 Q473.2,436.3 471.6,435.6 L449.5,422.5 Q448.2,421.8 448.2,421 Z" fill="#fff" stroke="#1e1e1e" stroke-width="1.3"/>
<path class="ld" d="M469.2,403.5 L459.9,414.3" />
<g filter="url(#g)"><g transform="translate(468.68,402.70) scale(0.8600,1)"><text text-rendering="geometricPrecision" font-size="10.4" font-weight="bold" fill="#2b2b2b" stroke="#2b2b2b" stroke-width="0.220" style="font-family:'Liberation Sans', sans-serif;font-kerning:none">3</text></g></g>
<ellipse class="f" cx="480.8" cy="435.3" rx="4.0" ry="6.1" fill="none" stroke="#1a1a1a" stroke-width="1.2" transform="rotate(-28 480.8 435.3)"/>
<path class="ld" d="M488.7,417.8 L481.7,428.9" />
<g filter="url(#g)"><g transform="translate(486.77,417.40) scale(0.8600,1)"><text text-rendering="geometricPrecision" font-size="10.4" font-weight="bold" fill="#2b2b2b" stroke="#2b2b2b" stroke-width="0.220" style="font-family:'Liberation Sans', sans-serif;font-kerning:none">4</text></g></g>
<path d="M431.9,448.8 L455,434.4 L459.4,440.6 L435.6,455.6Z" fill="#fff" stroke="#333" stroke-width="0.8"/>
<path d="M436.3,450.5 L444.5,445.5" stroke="#111" stroke-width="2.6" stroke-linecap="round"/>
<ellipse class="f" cx="447.6" cy="443.2" rx="1.4" ry="1.4" fill="#fff" stroke="#666" stroke-width="0.6"/>
<ellipse class="f" cx="452.5" cy="441.3" rx="2.4" ry="2.3" fill="#111"/>
<path class="l" d="M424,457.5 L432.5,452.5" stroke-width='0.7'/>
<circle cx="460.55" cy="455.25" r="13.1" fill="#f6b3b3" stroke="#ee3d4c" stroke-width="1.5"/>
<path class="ld" d="M452.8,441.1 L458.3,451.1" />
<g filter="url(#g)"><g transform="translate(455.68,459.89) scale(0.7400,1)"><text text-rendering="geometricPrecision" font-size="11.2" font-weight="normal" fill="#5e2024" stroke="#5e2024" stroke-width="0.400" style="font-family:'Liberation Sans', sans-serif;font-kerning:none">18</text><rect x="-0.35" y="-1.39" width="2.96" height="2.54" fill="#f6b3b3"/><rect x="4.01" y="-1.39" width="2.23" height="2.54" fill="#f6b3b3"/></g></g>
<g filter="url(#g)"><g transform="translate(438.54,468.30) scale(0.8400,1)"><text text-rendering="geometricPrecision" font-size="10.4" font-weight="normal" fill="#1a1a1a" stroke="#1a1a1a" stroke-width="0.250" style="font-family:'Liberation Sans', sans-serif;font-kerning:none">11</text><rect x="-0.33" y="-1.25" width="2.82" height="2.33" fill="#fff"/><rect x="3.66" y="-1.25" width="2.09" height="2.33" fill="#fff"/><rect x="6.10" y="-1.25" width="2.17" height="2.33" fill="#fff"/><rect x="9.44" y="-1.25" width="2.74" height="2.33" fill="#fff"/></g></g>
<g filter="url(#g)"><g transform="translate(450.74,477.70) scale(0.8400,1)"><text text-rendering="geometricPrecision" font-size="10.4" font-weight="normal" fill="#1a1a1a" stroke="#1a1a1a" stroke-width="0.250" style="font-family:'Liberation Sans', sans-serif;font-kerning:none">10</text><rect x="-0.33" y="-1.25" width="2.82" height="2.33" fill="#fff"/><rect x="3.66" y="-1.25" width="2.09" height="2.33" fill="#fff"/></g></g>
<ellipse class="f" cx="431.7" cy="480.9" rx="1.9" ry="1.4" fill="#888" stroke="#111" stroke-width="1.1" transform="rotate(-30 431.7 480.9)"/>
<ellipse class="f" cx="440.6" cy="486.2" rx="2.3" ry="2.0" fill="#777" stroke="#111" stroke-width="1"/>
<ellipse class="f" cx="440.4" cy="486.4" rx="0.9" ry="0.7" fill="#222"/>
<path class="ld" d="M440.8,470 L433.6,478.3" />
<path class="ld" d="M452.2,478.3 L443.3,483.9" />
<g filter="url(#g)"><g transform="translate(313.03,465.30) scale(0.8600,1)"><text text-rendering="geometricPrecision" font-size="10.4" font-weight="bold" fill="#2b2b2b" stroke="#2b2b2b" stroke-width="0.220" style="font-family:'Liberation Sans', sans-serif;font-kerning:none">8</text></g></g>
<g filter="url(#g)"><g transform="translate(312.99,477.80) scale(0.8600,1)"><text text-rendering="geometricPrecision" font-size="10.4" font-weight="bold" fill="#2b2b2b" stroke="#2b2b2b" stroke-width="0.220" style="font-family:'Liberation Sans', sans-serif;font-kerning:none">9</text></g></g>
<path d="M327.2,469.5 L327.2,473 Q329.6,475 332,473 L332,469.5" fill="#fff" stroke="#333" stroke-width="0.8"/>
<ellipse class="f" cx="329.6" cy="469.5" rx="2.4" ry="1.3" fill="#fff" stroke="#333" stroke-width="0.8"/>
<ellipse class="f" cx="329.8" cy="478.5" rx="2" ry="1.1" fill="#333"/>
<path class="ld" d="M317.9,464.2 L327.1,470.8" />
<path class="ld" d="M318.3,477.1 L327.9,478.75" />
<g filter="url(#g)"><g transform="translate(275.94,517.10) scale(0.8600,1)"><text text-rendering="geometricPrecision" font-size="10.4" font-weight="bold" fill="#2b2b2b" stroke="#2b2b2b" stroke-width="0.220" style="font-family:'Liberation Sans', sans-serif;font-kerning:none">28</text></g></g>
<g filter="url(#g)"><g transform="translate(251.03,547.60) scale(0.8600,1)"><text text-rendering="geometricPrecision" font-size="10.4" font-weight="bold" fill="#2b2b2b" stroke="#2b2b2b" stroke-width="0.220" style="font-family:'Liberation Sans', sans-serif;font-kerning:none">30</text></g></g>
<ellipse class="f" cx="286" cy="525.6" rx="3.9" ry="3.5" fill="#9a9a9a" stroke="#151515" stroke-width="1.2"/>
<path d="M283.8,526.6 L288,524.2" stroke="#111" stroke-width="1.2"/>
<ellipse class="f" cx="286.2" cy="525.2" rx="1.6" ry="1.0" fill="none" stroke="#eee" stroke-width="0.5"/>
<path d="M252.4,521.1 L277.5,534.4 L275.3,540 L250.4,525.8 Q248.2,522.2 252.4,521.1 Z" fill="#fff" stroke="#333" stroke-width="0.8"/>
<path d="M252.2,521.2 L277.5,534.4" stroke="#1a1a1a" stroke-width="1.3"/>
<path d="M273.2,533.2 L271.2,538.6" stroke="#666" stroke-width="0.6"/>
<path class="ld" d="M259.2,540 L261,534.9" />
<path class="ld" d="M282.5,517.8 L285.3,522" />
<g filter="url(#g)"><g transform="translate(468.62,545.80) scale(0.8600,1)"><text text-rendering="geometricPrecision" font-size="10.4" font-weight="bold" fill="#2b2b2b" stroke="#2b2b2b" stroke-width="0.220" style="font-family:'Liberation Sans', sans-serif;font-kerning:none">1</text><rect x="-0.45" y="-1.52" width="2.77" height="2.58" fill="#fff"/><rect x="3.96" y="-1.52" width="2.64" height="2.58" fill="#fff"/></g></g>
<path class="ld" d="M445,531.4 L467.2,542.2" />
<rect x="365.3" y="584.2" width="3.8999999999999773" height="15.799999999999955" fill="#fff" stroke="#333" stroke-width="0.8"/>
<ellipse class="f" cx="367.25" cy="584.7" rx="1.9499999999999886" ry="0.9" fill="#ccc" stroke="#333" stroke-width="0.6"/>
<ellipse class="f" cx="367.25" cy="604.7" rx="5" ry="2.5" fill="#ddd" stroke="#333" stroke-width="0.9"/>
<ellipse class="f" cx="367.25" cy="604.4000000000001" rx="2.2" ry="1.1" fill="#fff" stroke="#333" stroke-width="0.6"/>
<path d="M362.95,609.3 L362.95,612.3 L365.25,614.0999999999999 L369.25,614.0999999999999 L371.55,612.3 L371.55,609.3 L369.25,607.5999999999999 L365.25,607.5999999999999Z" fill="#ccc" stroke="#333" stroke-width="0.8"/>
<ellipse class="f" cx="367.25" cy="610.1999999999999" rx="2.3" ry="1.4" fill="#fff" stroke="#333" stroke-width="0.7"/>
<rect x="383.3" y="595" width="4.199999999999989" height="15.799999999999955" fill="#fff" stroke="#333" stroke-width="0.8"/>
<ellipse class="f" cx="385.4" cy="595.5" rx="2.0999999999999943" ry="0.9" fill="#ccc" stroke="#333" stroke-width="0.6"/>
<ellipse class="f" cx="385.4" cy="615" rx="5" ry="2.5" fill="#ddd" stroke="#333" stroke-width="0.9"/>
<ellipse class="f" cx="385.4" cy="614.7" rx="2.2" ry="1.1" fill="#fff" stroke="#333" stroke-width="0.6"/>
<path d="M381.09999999999997,621.0 L381.09999999999997,624.0 L383.4,625.8 L387.4,625.8 L389.7,624.0 L389.7,621.0 L387.4,619.3 L383.4,619.3Z" fill="#ccc" stroke="#333" stroke-width="0.8"/>
<ellipse class="f" cx="385.4" cy="621.9" rx="2.3" ry="1.4" fill="#fff" stroke="#333" stroke-width="0.7"/>
<rect x="333.8" y="605.8" width="3.6999999999999886" height="15.900000000000091" fill="#fff" stroke="#333" stroke-width="0.8"/>
<ellipse class="f" cx="335.65" cy="606.3" rx="1.8499999999999943" ry="0.9" fill="#ccc" stroke="#333" stroke-width="0.6"/>
<ellipse class="f" cx="335.65" cy="627.5" rx="5" ry="2.5" fill="#ddd" stroke="#333" stroke-width="0.9"/>
<ellipse class="f" cx="335.65" cy="627.2" rx="2.2" ry="1.1" fill="#fff" stroke="#333" stroke-width="0.6"/>
<path d="M331.34999999999997,632.7 L331.34999999999997,635.7 L333.65,637.5 L337.65,637.5 L339.95,635.7 L339.95,632.7 L337.65,631.0 L333.65,631.0Z" fill="#ccc" stroke="#333" stroke-width="0.8"/>
<ellipse class="f" cx="335.65" cy="633.6" rx="2.3" ry="1.4" fill="#fff" stroke="#333" stroke-width="0.7"/>
<rect x="345.5" y="613.3" width="4.0" height="15.900000000000091" fill="#fff" stroke="#333" stroke-width="0.8"/>
<ellipse class="f" cx="347.5" cy="613.8" rx="2.0" ry="0.9" fill="#ccc" stroke="#333" stroke-width="0.6"/>
<ellipse class="f" cx="347.5" cy="634.2" rx="5" ry="2.5" fill="#ddd" stroke="#333" stroke-width="0.9"/>
<ellipse class="f" cx="347.5" cy="633.9000000000001" rx="2.2" ry="1.1" fill="#fff" stroke="#333" stroke-width="0.6"/>
<path d="M343.2,639.8 L343.2,642.8 L345.5,644.5999999999999 L349.5,644.5999999999999 L351.8,642.8 L351.8,639.8 L349.5,638.0999999999999 L345.5,638.0999999999999Z" fill="#ccc" stroke="#333" stroke-width="0.8"/>
<ellipse class="f" cx="347.5" cy="640.6999999999999" rx="2.3" ry="1.4" fill="#fff" stroke="#333" stroke-width="0.7"/>
<path class="ld" d="M387.8,602.5 L400.9,600.3" />
<g filter="url(#g)"><g transform="translate(401.59,602.80) scale(0.8600,1)"><text text-rendering="geometricPrecision" font-size="10.4" font-weight="bold" fill="#2b2b2b" stroke="#2b2b2b" stroke-width="0.220" style="font-family:'Liberation Sans', sans-serif;font-kerning:none">2</text></g></g>
<path class="ld" d="M391.25,615 L401.6,613.75" />
<g filter="url(#g)"><g transform="translate(401.89,616.90) scale(0.8600,1)"><text text-rendering="geometricPrecision" font-size="10.4" font-weight="bold" fill="#2b2b2b" stroke="#2b2b2b" stroke-width="0.220" style="font-family:'Liberation Sans', sans-serif;font-kerning:none">27</text></g></g>
<path class="ld" d="M388.75,624 L401.9,626.9" />
<g filter="url(#g)"><g transform="translate(402.19,630.50) scale(0.8600,1)"><text text-rendering="geometricPrecision" font-size="10.4" font-weight="bold" fill="#2b2b2b" stroke="#2b2b2b" stroke-width="0.220" style="font-family:'Liberation Sans', sans-serif;font-kerning:none">29</text></g></g>
<rect x="208" y="658" width="1" height="2" fill="#e66"/><rect x="209" y="658" width="1" height="2" fill="#6c6"/><rect x="210" y="658" width="1" height="2" fill="#66e"/>
</svg></body></html>
